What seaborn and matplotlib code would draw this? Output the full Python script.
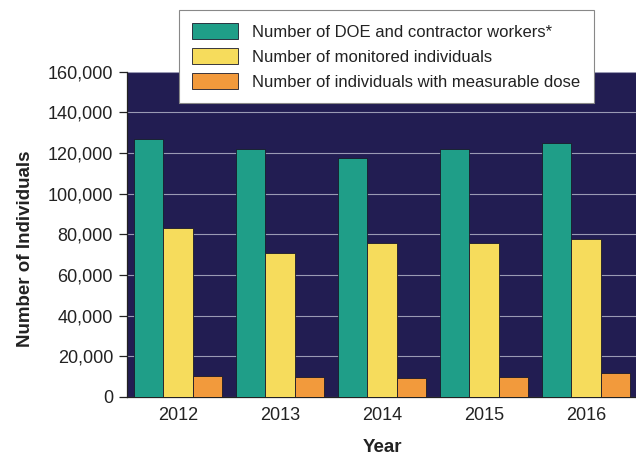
import pandas as pd
import numpy as np
import matplotlib
matplotlib.use("Agg")
import matplotlib.pyplot as plt
import seaborn as sns
from matplotlib.ticker import FuncFormatter, FixedLocator

years = ["2012", "2013", "2014", "2015", "2016"]
workers = [127000, 122000, 117500, 122000, 125000]
monitored = [83000, 71000, 75500, 75500, 77500]
measurable = [10500, 10000, 9500, 10000, 12000]

series_names = [
    "Number of DOE and contractor workers*",
    "Number of monitored individuals",
    "Number of individuals with measurable dose",
]
colors = ["#1f9e88", "#f6dc5c", "#f29a3c"]

df = pd.DataFrame({
    "Year": years * 3,
    "Value": workers + monitored + measurable,
    "Series": [series_names[0]] * 5 + [series_names[1]] * 5 + [series_names[2]] * 5,
})

sns.set_style("white")
plt.rcParams["font.family"] = ["Liberation Sans", "DejaVu Sans"]

fig = plt.figure(figsize=(6.36, 4.57), dpi=100)
ax = fig.add_axes([0.1997, 0.1313, 0.802, 0.7122])
ax.set_facecolor("#221d52")

sns.barplot(
    data=df, x="Year", y="Value", hue="Series",
    palette=colors, saturation=1, width=0.86, gap=0,
    edgecolor="#1a1a2a", linewidth=0.6, ax=ax, zorder=3,
)

ax.set_ylim(0, 160000)
ax.set_xlim(-0.5, 4.5)
ax.set_yticks(np.arange(0, 160001, 20000))
ax.yaxis.set_major_formatter(FuncFormatter(lambda v, p: f"{int(v):,}"))
ax.yaxis.grid(True, color="#9a9ab4", linewidth=0.8, zorder=0)
ax.set_axisbelow(True)

ax.xaxis.set_minor_locator(FixedLocator(np.arange(-0.5, 5, 1)))
ax.tick_params(axis="x", which="major", length=0, labelsize=13, pad=7, colors="#222222")
ax.tick_params(axis="x", which="minor", length=5, width=0.9, color="#222222", direction="out")
ax.tick_params(axis="y", which="major", length=6, width=0.9, labelsize=13, pad=4,
               colors="#222222", direction="out", left=True)

for side in ["top", "right"]:
    ax.spines[side].set_visible(False)
for side in ["left", "bottom"]:
    ax.spines[side].set_color("#222222")
    ax.spines[side].set_linewidth(0.9)

ax.set_xlabel("Year", fontsize=13.5, fontweight="bold", labelpad=11, color="#222222")
ax.set_ylabel("Number of Individuals", fontsize=13.5, fontweight="bold", labelpad=10,
              color="#222222", y=0.455)

handles, labels = ax.get_legend_handles_labels()
ax.legend_.remove()
leg = fig.legend(
    handles, labels, loc="upper left", bbox_to_anchor=(0.281, 0.978),
    bbox_transform=fig.transFigure, fontsize=12, frameon=True, fancybox=False,
    edgecolor="#888888", framealpha=1, borderaxespad=0, handlelength=2.75,
    handleheight=1.1, handletextpad=0.85, labelspacing=0.5, borderpad=0.8,
)
leg.get_frame().set_linewidth(0.8)
for t in leg.get_texts():
    t.set_color("#222222")

fig.savefig("out.png", dpi=100)
